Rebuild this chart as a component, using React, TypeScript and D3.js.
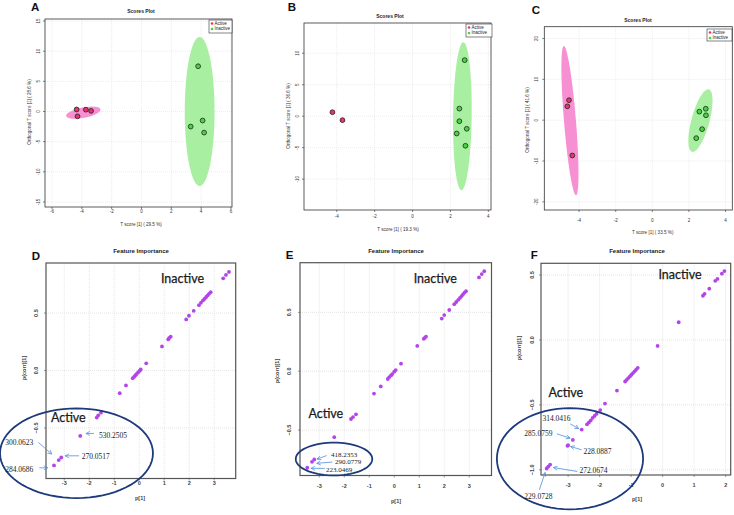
import React from 'react';
import * as d3 from 'd3';

// ---------- scores plots (A, B, C) ----------
const aActive = [[-4.35, 0.33], [-3.73, 0.3], [-3.38, 0.1], [-4.29, -0.8]];
const aInactive = [[3.8, 7.5], [4.1, -1.5], [3.3, -2.5], [4.2, -3.5]];
const bActive = [[-4.23, 0.63], [-3.7, -0.63]];
const bInactive = [[2.75, 8.9], [2.47, 1.2], [2.47, -0.8], [2.86, -2.0], [2.33, -2.75], [2.79, -4.7]];
const cActive = [[-4.55, 4.9], [-4.64, 3.4], [-4.37, -8.65]];
const cInactive = [[2.57, 2.1], [2.92, 2.8], [2.93, 1.2], [2.72, -2.2], [2.4, -4.4]];

// confidence ellipses: centre + two half-axis vectors, data units
const aActiveEll = { c: [-3.9, -0.2], u: [1.15, 0.55], v: [0.06, -0.85] };
const aInactiveEll = { c: [3.9, 0], u: [1.0, 0], v: [0, 12.35] };
const bInactiveEll = { c: [2.63, 0], u: [0.49, 0], v: [0.05, 11.75] };
const cActiveEll = { c: [-4.5, -0.1], u: [0.33, -0.12], v: [-0.33, 18.3] };
const cInactiveEll = { c: [2.63, -0.1], u: [0.475, -0.58], v: [0.46, 7.65] };

const legendLabels = ['Active', 'Inactive'];

// ---------- feature importance (D, E, F) ----------
const dP = [3.59, 3.47, 3.36, 2.86, 2.8, 2.74, 2.68, 2.62, 2.55, 2.47, 2.39, 2.18, 1.99, 1.88, 1.26, 1.2, 1.16, 0.91, 0.28, 0.06, 0.02, -0.04, -0.1, -0.15, -0.2, -0.26, -0.53, -0.78, -1.53, -1.64, -1.7, -2.36, -3.12, -3.22, -3.41];
const dCorr = [0.858, 0.832, 0.803, 0.682, 0.67, 0.655, 0.64, 0.625, 0.61, 0.59, 0.569, 0.52, 0.477, 0.445, 0.295, 0.283, 0.271, 0.21, 0.063, 0.009, -0.001, -0.015, -0.029, -0.041, -0.054, -0.067, -0.13, -0.197, -0.367, -0.39, -0.41, -0.569, -0.757, -0.78, -0.826];

const eP = [3.6, 3.5, 3.39, 2.87, 2.81, 2.75, 2.69, 2.63, 2.56, 2.48, 2.4, 2.2, 2.0, 1.9, 1.27, 1.22, 1.18, 0.92, 0.27, 0.06, 0.0, -0.08, -0.13, -0.2, -0.26, -0.54, -0.81, -1.53, -1.65, -1.73, -2.4, -3.2, -3.29, -3.48];
const eCorr = [0.85, 0.825, 0.797, 0.68, 0.668, 0.653, 0.638, 0.623, 0.607, 0.588, 0.57, 0.52, 0.477, 0.447, 0.294, 0.284, 0.275, 0.215, 0.064, 0.01, -0.004, -0.024, -0.036, -0.05, -0.066, -0.129, -0.19, -0.366, -0.39, -0.406, -0.56, -0.75, -0.77, -0.82];

const fP = [1.96, 1.88, 1.74, 1.67, 1.48, 1.33, 1.28, 0.51, -0.16, -0.79, -0.84, -0.89, -0.94, -0.99, -1.04, -1.09, -1.14, -1.19, -1.45, -1.83, -1.98, -2.1, -2.16, -2.22, -2.28, -2.34, -2.4, -2.57, -2.85, -3.0, -3.02, -3.57, -3.63, -3.68];
const fCorr = [0.53, 0.51, 0.47, 0.455, 0.395, 0.355, 0.34, 0.136, -0.046, -0.215, -0.228, -0.242, -0.255, -0.268, -0.281, -0.294, -0.307, -0.32, -0.39, -0.49, -0.54, -0.57, -0.585, -0.6, -0.62, -0.635, -0.65, -0.69, -0.77, -0.81, -0.815, -0.96, -0.975, -0.99];

const dRing = { c: [-2.51, -0.72], u: [3.06, 0], v: [0, 0.39] };
const eRing = { c: [-2.41, -0.746], u: [1.53, 0], v: [0, 0.139] };
const fRing = { c: [-2.94, -0.915], u: [2.32, 0], v: [0, 0.39] };

// annotated m/z values: label, target point, offsets (px) of arrow tail, tip and text
const dNotes = [
  { label: '530.2505', at: [-2.36, -0.569], tail: [13.7, -2.4], tip: [5.7, -2.4], text: [18.7, 1.8], anchor: 'start' },
  { label: '270.0517', at: [-3.22, -0.78], tail: [20.3, -4.3], tip: [6.3, -4.3], text: [23, -1], anchor: 'start' },
  { label: '300.0623', at: [-3.22, -0.78], tail: [-20.4, -17.7], tip: [-7, -6], text: [-25.4, -15.5], anchor: 'end' },
  { label: '284.0686', at: [-3.41, -0.826], tail: [-14.7, 2.4], tip: [-6.3, 2.4], text: [-20.7, 6.2], anchor: 'end' },
];
const eNotes = [
  { label: '418.2353', at: [-3.2, -0.75], tail: [12.4, -3.9], tip: [2.7, -0.4], text: [16.7, -2.9], anchor: 'start' },
  { label: '290.0779', at: [-3.29, -0.77], tail: [20.3, 0.2], tip: [4.7, 1.5], text: [23, 2.6], anchor: 'start' },
  { label: '223.0469', at: [-3.48, -0.82], tail: [17.7, 0.6], tip: [3.7, 0.6], text: [18.7, 4.6], anchor: 'start' },
];
const fNotes = [
  { label: '314.0416', at: [-2.57, -0.69], tail: [-11.5, -5.7], tip: [-3, -1], text: [-39.2, -8.9], anchor: 'start' },
  { label: '285.0759', at: [-2.85, -0.77], tail: [-16, -6.1], tip: [-2.7, -1.8], text: [-20.4, -4.3], anchor: 'end' },
  { label: '228.0887', at: [-3.0, -0.81], tail: [13.7, 4.7], tip: [2.5, 1.4], text: [15.3, 8.9], anchor: 'start' },
  { label: '272.0674', at: [-3.57, -0.96], tail: [27.3, 6.9], tip: [3.3, 2.9], text: [29.3, 8.7], anchor: 'start' },
  { label: '229.0728', at: [-3.68, -0.99], tail: [-7.3, 21.3], tip: [-1.6, 4], text: [-22.3, 30.5], anchor: 'start' },
];

const SANS = 'Liberation Sans, Arial, sans-serif';
const ACTIVE = '#e8336b';
const INACTIVE = '#45d63f';

const ellipsePath = (e, x, y) => {
  const pts = d3.range(0, 73).map((i) => {
    const t = (i / 72) * 2 * Math.PI;
    return [
      x(e.c[0] + e.u[0] * Math.cos(t) + e.v[0] * Math.sin(t)),
      y(e.c[1] + e.u[1] * Math.cos(t) + e.v[1] * Math.sin(t)),
    ];
  });
  return d3.line()(pts) + 'Z';
};

const ScoresPanel = ({ cfg, active, inactive, ells }) => {
  const { l, r, t, b } = cfg.frame;
  const x = d3.scaleLinear().domain(cfg.xDomain).range([l, r]);
  const y = d3.scaleLinear().domain(cfg.yDomain).range([b, t]);
  const lg = cfg.legend;
  return (
    <g fontFamily={SANS}>
      <text x={cfg.letter[0]} y={cfg.letter[1]} fontSize={11.5} fontWeight="bold" fill="#111">{cfg.name}</text>
      <text x={cfg.titlePos[0]} y={cfg.titlePos[1]} fontSize={5} fontWeight="bold" textAnchor="middle" fill="#222">Scores Plot</text>
      {cfg.xTicks.map((v) => (
        <line key={'gx' + v} x1={x(v)} x2={x(v)} y1={t} y2={b} stroke="#d8d8d8" strokeWidth={0.5} strokeDasharray="1,1" />
      ))}
      {cfg.yTicks.map((v) => (
        <line key={'gy' + v} x1={l} x2={r} y1={y(v)} y2={y(v)} stroke="#d8d8d8" strokeWidth={0.5} strokeDasharray="1,1" />
      ))}
      {ells.map((e, i) => (
        <path key={'e' + i} d={ellipsePath(e.shape, x, y)} fill={e.group === 'Active' ? '#f78fd3' : '#a9efa2'} />
      ))}
      {active.map((d, i) => (
        <circle key={'a' + i} cx={x(d[0])} cy={y(d[1])} r={2.4} fill={ACTIVE} stroke="#222" strokeWidth={0.8} />
      ))}
      {inactive.map((d, i) => (
        <circle key={'i' + i} cx={x(d[0])} cy={y(d[1])} r={2.4} fill={INACTIVE} stroke="#222" strokeWidth={0.8} />
      ))}
      <rect x={l} y={t} width={r - l} height={b - t} fill="none" stroke="#333" strokeWidth={0.8} />
      {cfg.xTicks.map((v) => (
        <g key={'tx' + v}>
          <line x1={x(v)} x2={x(v)} y1={b} y2={b + 2} stroke="#333" strokeWidth={0.6} />
          <text x={x(v)} y={cfg.xTickY} fontSize={4.5} textAnchor="middle" dominantBaseline="middle" fill="#333">{v}</text>
        </g>
      ))}
      {cfg.yTicks.map((v) => (
        <g key={'ty' + v}>
          <line x1={l - 2} x2={l} y1={y(v)} y2={y(v)} stroke="#333" strokeWidth={0.6} />
          <text transform={`translate(${cfg.yTickX},${y(v)}) rotate(-90)`} fontSize={4.5} textAnchor="middle" dominantBaseline="middle" fill="#333">{v}</text>
        </g>
      ))}
      <text x={cfg.xLabel[0]} y={cfg.xLabel[1]} fontSize={4.6} textAnchor="middle" fill="#333">{cfg.xTitle}</text>
      <text transform={`translate(${cfg.yLabel[0]},${cfg.yLabel[1]}) rotate(-90)`} fontSize={4.6} textAnchor="middle" fill="#333">{cfg.yTitle}</text>
      <rect x={lg.x} y={lg.y} width={lg.w} height={lg.h} fill="#fff" stroke="#333" strokeWidth={0.6} />
      {legendLabels.map((name, i) => (
        <g key={name}>
          <circle cx={lg.x + 3} cy={lg.y + 3.5 + i * 5.5} r={1.3} fill={i === 0 ? ACTIVE : INACTIVE} />
          <text x={lg.x + 5.5} y={lg.y + 3.5 + i * 5.5} fontSize={4.5} dominantBaseline="middle" fill="#222">{name}</text>
        </g>
      ))}
    </g>
  );
};

const FeaturePanel = ({ cfg, ps, corrs, ring, notes, noteSize }) => {
  const { l, r, t, b } = cfg.frame;
  const x = d3.scaleLinear().domain(cfg.xDomain).range([l, r]);
  const y = d3.scaleLinear().domain(cfg.yDomain).range([b, t]);
  const fmt = d3.format('.1f');
  return (
    <g fontFamily={SANS}>
      <text x={cfg.letter[0]} y={cfg.letter[1]} fontSize={11.5} fontWeight="bold" fill="#111">{cfg.name}</text>
      <text x={cfg.titlePos[0]} y={cfg.titlePos[1]} fontSize={6} fontWeight="bold" textAnchor="middle" fill="#222">Feature Importance</text>
      {cfg.xTicks.map((v) => (
        <line key={'gx' + v} x1={x(v)} x2={x(v)} y1={t} y2={b} stroke="#d4d4d4" strokeWidth={0.6} strokeDasharray="1,1" />
      ))}
      {cfg.yTicks.map((v) => (
        <line key={'gy' + v} x1={l} x2={r} y1={y(v)} y2={y(v)} stroke="#d4d4d4" strokeWidth={0.6} strokeDasharray="1,1" />
      ))}
      {ps.map((p, i) => (
        <circle key={'p' + i} cx={x(p)} cy={y(corrs[i])} r={1.9} fill="#b345e8" />
      ))}
      <rect x={l} y={t} width={r - l} height={b - t} fill="none" stroke="#555" strokeWidth={1.2} />
      {cfg.xTicks.map((v) => (
        <g key={'tx' + v}>
          <line x1={x(v)} x2={x(v)} y1={b} y2={b + 2} stroke="#555" strokeWidth={0.6} />
          <text x={x(v)} y={cfg.xTickY} fontSize={5.5} fontWeight="bold" textAnchor="middle" dominantBaseline="middle" fill="#444">{v}</text>
        </g>
      ))}
      {cfg.yTicks.map((v) => (
        <g key={'ty' + v}>
          <line x1={l - 2} x2={l} y1={y(v)} y2={y(v)} stroke="#555" strokeWidth={0.6} />
          <text transform={`translate(${cfg.yTickX},${y(v)}) rotate(-90)`} fontSize={5.5} fontWeight="bold" textAnchor="middle" dominantBaseline="middle" fill="#444">{fmt(v)}</text>
        </g>
      ))}
      <text x={cfg.xLabel[0]} y={cfg.xLabel[1]} fontSize={5.5} fontWeight="bold" textAnchor="middle" fill="#444">p[1]</text>
      <text transform={`translate(${cfg.yLabel[0]},${cfg.yLabel[1]}) rotate(-90)`} fontSize={5.5} fontWeight="bold" textAnchor="middle" fill="#444">p(corr)[1]</text>
      <text x={cfg.inactivePos[0]} y={cfg.inactivePos[1]} fontSize={12.5} fontFamily="Lato, sans-serif" textAnchor="middle" dominantBaseline="middle" fill="#1a1a1a" stroke="#1a1a1a" strokeWidth={0.25}>Inactive</text>
      <text x={cfg.activePos[0]} y={cfg.activePos[1]} fontSize={12.5} fontFamily="Lato, sans-serif" textAnchor="middle" dominantBaseline="middle" fill="#1a1a1a" stroke="#1a1a1a" strokeWidth={0.25}>Active</text>
      <path d={ellipsePath(ring, x, y)} fill="none" stroke="#1d3a7c" strokeWidth={1.8} />
      {notes.map((n) => {
        const cx = x(n.at[0]);
        const cy = y(n.at[1]);
        return (
          <g key={n.label}>
            <line x1={cx + n.tail[0]} y1={cy + n.tail[1]} x2={cx + n.tip[0]} y2={cy + n.tip[1]} stroke="#4f8fdc" strokeWidth={0.8} markerEnd="url(#arr)" />
            <text x={cx + n.text[0]} y={cy + n.text[1]} fontSize={noteSize} fontFamily="Liberation Serif, serif" textAnchor={n.anchor} fill="#222">{n.label}</text>
          </g>
        );
      })}
    </g>
  );
};

const scoreCfgs = [
  {
    name: 'A', frame: { l: 45, r: 232, t: 19, b: 207 }, xDomain: [-6.47, 6.07], yDomain: [-15.83, 15.33],
    xTicks: [-6, -4, -2, 0, 2, 4, 6], yTicks: [-15, -10, -5, 0, 5, 10, 15],
    letter: [31, 10.5], titlePos: [141, 12.5], xLabel: [141, 225.5], yLabel: [30.5, 112], xTickY: 212.3, yTickX: 39.3,
    xTitle: 'T score [1] ( 29.5 %)', yTitle: 'Orthogonal T score [1] ( 28.6 %)', legend: { x: 209, y: 20, w: 23, h: 13 },
  },
  {
    name: 'B', frame: { l: 304, r: 491, t: 23, b: 210 }, xDomain: [-5.73, 4.14], yDomain: [-14.9, 14.8],
    xTicks: [-4, -2, 0, 2, 4], yTicks: [-10, -5, 0, 5, 10],
    letter: [287.7, 10.5], titlePos: [390, 17.5], xLabel: [398, 230.5], yLabel: [289.5, 116], xTickY: 216.7, yTickX: 298.3,
    xTitle: 'T score [1] ( 19.3 %)', yTitle: 'Orthogonal T score [1] ( 36.6 %)', legend: { x: 466, y: 24, w: 26, h: 13 },
  },
  {
    name: 'C', frame: { l: 544.3, r: 732.3, t: 26.7, b: 210 }, xDomain: [-5.9, 4.37], yDomain: [-22, 22.9],
    xTicks: [-4, -2, 0, 2, 4], yTicks: [-20, -10, 0, 10, 20],
    letter: [531.7, 14], titlePos: [638, 21.5], xLabel: [652.7, 234], yLabel: [529, 120], xTickY: 221, yTickX: 536.7,
    xTitle: 'T score [1] ( 33.5 %)', yTitle: 'Orthogonal T score [1] ( 41.6 %)', legend: { x: 707, y: 29, w: 25, h: 12 },
  },
];

const featCfgs = [
  {
    name: 'D', frame: { l: 46, r: 235.7, t: 263, b: 478.5 }, xDomain: [-3.73, 3.86], yDomain: [-0.94, 0.936],
    xTicks: [-3, -2, -1, 0, 1, 2, 3], yTicks: [-0.5, 0, 0.5],
    letter: [31.7, 260], titlePos: [141, 252.5], xLabel: [140, 499.5], yLabel: [26, 368], xTickY: 484, yTickX: 36.7,
    inactivePos: [182.5, 280], activePos: [68.3, 419],
  },
  {
    name: 'E', frame: { l: 300, r: 491.5, t: 262.7, b: 475.5 }, xDomain: [-3.77, 3.89], yDomain: [-0.886, 0.922],
    xTicks: [-3, -2, -1, 0, 1, 2, 3], yTicks: [-0.5, 0, 0.5],
    letter: [285.7, 259.3], titlePos: [396, 252.5], xLabel: [396, 503], yLabel: [279, 371], xTickY: 487, yTickX: 290,
    inactivePos: [435.3, 280], activePos: [325.8, 415],
  },
  {
    name: 'F', frame: { l: 541, r: 730.7, t: 263.3, b: 475 }, xDomain: [-3.86, 2.16], yDomain: [-1.04, 0.59],
    xTicks: [-3, -2, -1, 0, 1, 2], yTicks: [-1, -0.5, 0, 0.5],
    letter: [530.7, 259.3], titlePos: [637, 252.5], xLabel: [637, 501], yLabel: [521, 348], xTickY: 486, yTickX: 532.3,
    inactivePos: [680, 275.7], activePos: [565.8, 394],
  },
];

export default function App() {
  return (
    <svg width={734} height={515} style={{ position: 'absolute', left: 0, top: 0, background: '#fff' }}>
      <defs>
        <marker id="arr" viewBox="0 0 10 10" refX="9" refY="5" markerWidth="5" markerHeight="5" markerUnits="userSpaceOnUse" orient="auto">
          <path d="M1,1 L9,5 L1,9" fill="none" stroke="#4f8fdc" strokeWidth={1.4} />
        </marker>
      </defs>
      <rect width={734} height={515} fill="#fff" />
      <ScoresPanel cfg={scoreCfgs[0]} active={aActive} inactive={aInactive}
        ells={[{ group: 'Active', shape: aActiveEll }, { group: 'Inactive', shape: aInactiveEll }]} />
      <ScoresPanel cfg={scoreCfgs[1]} active={bActive} inactive={bInactive}
        ells={[{ group: 'Inactive', shape: bInactiveEll }]} />
      <ScoresPanel cfg={scoreCfgs[2]} active={cActive} inactive={cInactive}
        ells={[{ group: 'Active', shape: cActiveEll }, { group: 'Inactive', shape: cInactiveEll }]} />
      <FeaturePanel cfg={featCfgs[0]} ps={dP} corrs={dCorr} ring={dRing} notes={dNotes} noteSize={7.5} />
      <FeaturePanel cfg={featCfgs[1]} ps={eP} corrs={eCorr} ring={eRing} notes={eNotes} noteSize={7} />
      <FeaturePanel cfg={featCfgs[2]} ps={fP} corrs={fCorr} ring={fRing} notes={fNotes} noteSize={7.5} />
    </svg>
  );
}
